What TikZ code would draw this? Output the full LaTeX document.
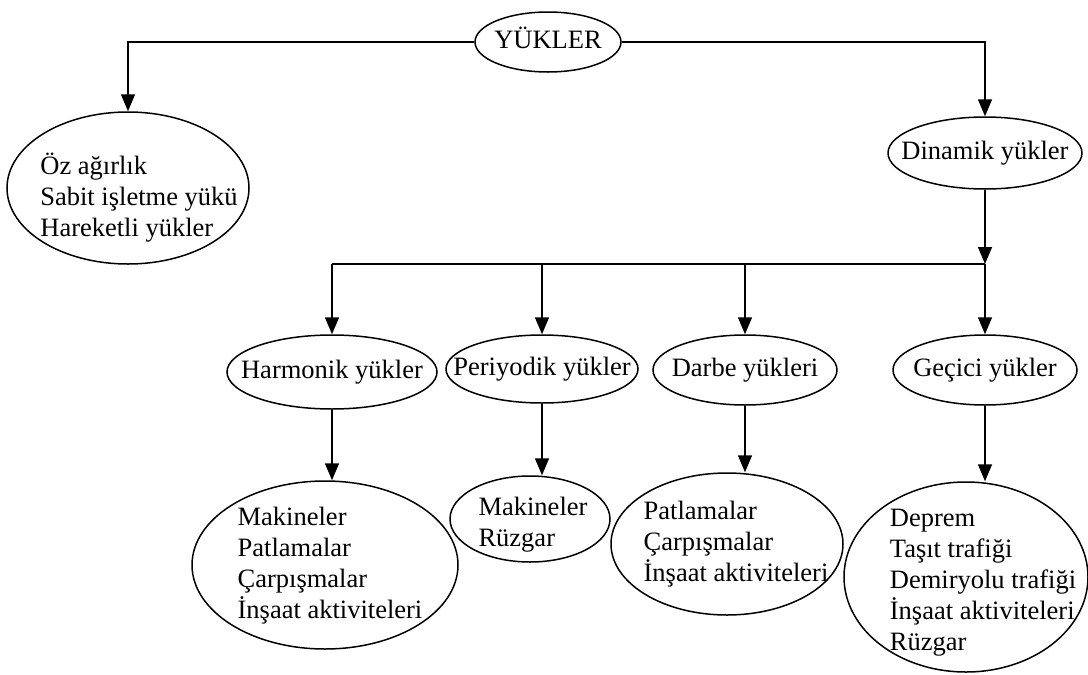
\documentclass[tikz,border=0pt]{standalone}
\usepackage{fontspec}
\setmainfont{Liberation Serif}
\usetikzlibrary{shapes.geometric,arrows.meta}
% text of an ellipse: sets no size, optional shift right/down
\NewDocumentCommand{\ellText}{O{0pt}O{0pt}m}{\makebox[0pt]{\kern#1\raisebox{\dimexpr-.25em-#2\relax}[0pt][0pt]{\begin{tabular}{@{}l@{}}#3\end{tabular}}\kern-#1}}

\begin{document}
\begin{tikzpicture}
        [   x=1pt, y=-1pt,
            LoadNode/.style=
            {ellipse, draw, line width=1.5pt, inner sep=0pt,
            font=\fontsize{26.5}{31}\selectfont},
            LoadArrow/.style=
            {line width=1.5pt, -{Triangle[length=17pt,width=14pt]}}
        ]
            \useasboundingbox (0,0) rectangle (1088,675);

            \node[LoadNode, minimum width=146pt, minimum height=60pt] (yuk) at (548,42)
                {\ellText{YÜKLER}};
            \node[LoadNode, minimum width=242pt, minimum height=152pt] (stat) at (128,188)
                {\ellText[11pt][11pt]{Öz ağırlık\\Sabit işletme yükü\\Hareketli yükler}};
            \node[LoadNode, minimum width=194pt, minimum height=72pt] (din) at (985,153)
                {\ellText{Dinamik yükler}};

            % second row
            \foreach \i/\x/\y/\w/\h/\t in {1/332/372/210/74/Harmonik yükler,
                    2/542/369/192/68/Periyodik yükler,
                    3/745/370/184/70/Darbe yükleri,
                    4/985/370/184/70/Geçici yükler}
                \node[LoadNode, minimum width=\w pt, minimum height=\h pt] (h\i) at (\x,\y)
                    {\ellText{\t}};

            % third row
            \node[LoadNode, minimum width=266pt, minimum height=168pt] (l1) at (325,565)
                {\ellText[5pt]{Makineler\\Patlamalar\\Çarpışmalar\\İnşaat aktiviteleri}};
            \node[LoadNode, minimum width=160pt, minimum height=86pt] (l2) at (530,519)
                {\ellText[3pt][5pt]{Makineler\\Rüzgar}};
            \node[LoadNode, minimum width=232pt, minimum height=142pt] (l3) at (727,544)
                {\ellText[9pt]{Patlamalar\\Çarpışmalar\\İnşaat aktiviteleri}};
            \node[LoadNode, minimum width=244pt, minimum height=190pt] (l4) at (966,577)
                {\ellText[17pt][5pt]{Deprem\\Taşıt trafiği\\Demiryolu trafiği\\İnşaat aktiviteleri\\Rüzgar}};

            \coordinate (bus) at (985,264);

            \draw[LoadArrow] (yuk.west) -| (stat.north);
            \draw[LoadArrow] (yuk.east) -| (din.north);
            \draw[LoadArrow] (din.south) -- (bus);
            \draw[line width=1.5pt] (h1.north |- bus) -- (bus);

            \foreach \i in {1, ..., 4}
            {
                \draw[LoadArrow] (h\i.north |- bus) -- (h\i.north);
                \draw[LoadArrow] (h\i.south) -- (h\i.south |- l\i.north);
            }
    \end{tikzpicture}
\end{document}
